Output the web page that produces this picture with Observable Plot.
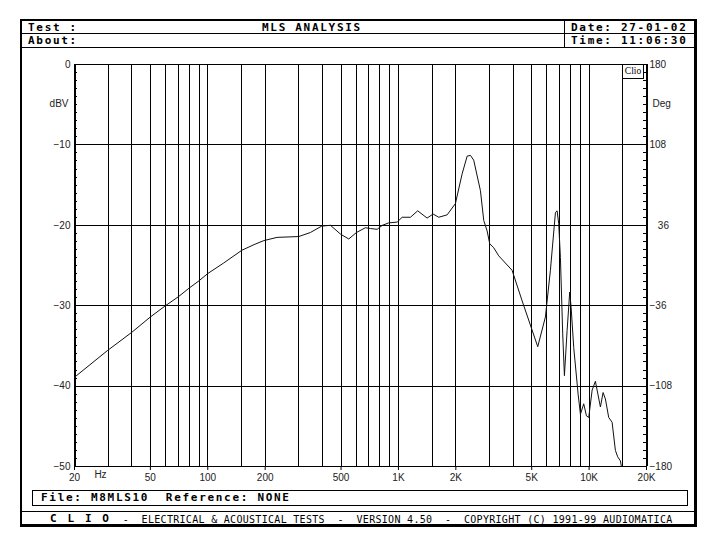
<!DOCTYPE html>
<html><head><meta charset="utf-8">
<script src="https://cdn.jsdelivr.net/npm/d3@7"></script>
<script src="https://cdn.jsdelivr.net/npm/@observablehq/plot@0.6"></script>
<style>
body{margin:0;background:#fff;}
#wrap{position:relative;width:719px;height:545px;overflow:hidden;background:#fff;}
#chart{position:absolute;left:0;top:0;}
.ov{position:absolute;}
.hb{font-family:"DejaVu Sans Mono",monospace;font-weight:bold;font-size:11px;letter-spacing:1.7px;color:#000;white-space:pre;line-height:12px;}
.fr{font-family:"DejaVu Sans Mono",monospace;font-weight:normal;font-size:10px;letter-spacing:0.3px;color:#000;white-space:pre;line-height:12px;}
.ln{position:absolute;background:#000;}
</style></head><body>
<div id="wrap">
<div id="chart"></div>
<div class="ov" style="left:20px;top:19px;width:672px;height:503px;border-style:solid;border-color:#000;border-width:2px 3px 3px 2px;"></div>
<div class="ln" style="left:22px;top:33px;width:672px;height:1px;"></div>
<div class="ln" style="left:22px;top:47px;width:672px;height:1px;"></div>
<div class="ln" style="left:564px;top:21px;width:1px;height:26px;"></div>
<div class="ov hb" style="left:28px;top:21.5px;">Test :</div>
<div class="ov hb" style="left:262px;top:21.5px;">MLS ANALYSIS</div>
<div class="ov hb" style="left:571px;top:21.5px;">Date: 27-01-02</div>
<div class="ov hb" style="left:28px;top:35px;">About:</div>
<div class="ov hb" style="left:571px;top:35px;">Time: 11:06:30</div>
<div class="ov" style="left:32px;top:490px;width:654px;height:14px;border:1px solid #000;"></div>
<div class="ov hb" style="left:41px;top:491.5px;">File: M8MLS10  Reference: NONE</div>
<div class="ln" style="left:22px;top:511px;width:672px;height:1px;"></div>
<div class="ov hb" style="left:50px;top:513px;letter-spacing:2.1px;">C L I O</div>
<div class="ov fr" style="left:110px;top:513.5px;">  -  ELECTRICAL &amp; ACOUSTICAL TESTS  -  VERSION 4.50  -  COPYRIGHT (C) 1991-99 AUDIOMATICA</div>
<div class="ov" style="left:622px;top:64px;width:20px;height:13px;border:1px solid #000;background:#fff;font-family:'Liberation Serif',serif;font-size:9.5px;line-height:13px;text-align:center;">Clio</div>
</div>
<script>
// Frequency response (Hz) and level (dBV)
const freqs = [20, 29.7, 40, 50, 60, 70, 80, 90, 100, 121, 151, 175, 197, 231, 300, 345, 396, 440, 497, 549, 602, 671, 713, 773, 824, 889, 985, 1046, 1156, 1262, 1414, 1520, 1627, 1801, 1990, 2158, 2293, 2386, 2482, 2692, 2802, 2918, 3012, 3162, 3358, 3946, 4454, 4920, 5378, 5900, 6266, 6660, 6795, 6928, 7072, 7271, 7422, 7667, 7914, 8048, 8306, 8758, 9006, 9372, 9682, 9956, 10372, 10790, 11464, 11842, 12176, 12672, 13202, 13738, 14126, 14592, 14894];
const levels = [-38.9, -35.6, -33.3, -31.4, -30.0, -28.9, -27.8, -26.9, -26.0, -24.7, -23.1, -22.4, -21.9, -21.5, -21.4, -20.9, -20.1, -20.0, -21.1, -21.7, -20.9, -20.3, -20.4, -20.5, -20.0, -19.7, -19.6, -19.0, -19.0, -18.2, -19.1, -18.6, -19.0, -18.7, -17.3, -13.6, -11.4, -11.3, -11.9, -15.7, -19.4, -20.7, -22.3, -22.8, -23.8, -25.6, -29.4, -32.4, -35.1, -31.4, -25.6, -18.4, -18.2, -19.8, -24.0, -33.5, -38.7, -33.1, -28.3, -30.2, -35.2, -41.0, -43.5, -42.2, -43.7, -43.9, -40.5, -39.4, -42.6, -40.8, -41.6, -43.9, -44.5, -48.0, -48.8, -49.3, -50.5];

const gridFreqs = [30, 40, 50, 60, 70, 80, 90, 100, 150, 200, 300, 400, 500, 600, 700, 800, 900, 1000, 1500, 2000, 3000, 4000, 5000, 6000, 7000, 8000, 9000, 10000, 15000];
const dbGrid = [-10, -20, -30, -40];
const dbTicks = [0, -10, -20, -30, -40, -50];
const dbLabels = ["0", "\u221210", "\u221220", "\u221230", "\u221240", "\u221250"];
const degLabels = ["180", "108", "\u2007 36", "\u221236", "\u2212108", "\u2212180"];
const xTickFreqs = [20, 50, 100, 200, 500, 1000, 2000, 5000, 10000, 20000];
const xTickLabels = ["20", "50", "100", "200", "500", "1K", "2K", "5K", "10K", "20K"];
const minorDb = d3.range(-50, 1);

const data = freqs.map((f, i) => ({f, db: levels[i]}));
const xTicks = xTickFreqs.map((f, i) => ({f, label: xTickLabels[i]}));

const W = 719, H = 545, mL = 74, mR = 73, mT = 64, mB = 79;
const pw = W - mL - mR;
const labelFont = "Liberation Sans";

const chart = Plot.plot({
  width: W, height: H,
  marginLeft: mL, marginRight: mR, marginTop: mT, marginBottom: mB,
  style: {fontFamily: labelFont, fontSize: "10px", background: "transparent", color: "#000"},
  x: {type: "log", domain: [20, 20000], axis: null},
  y: {domain: [-50, 0], axis: null},
  marks: [
    Plot.ruleX(gridFreqs, {stroke: "#000", strokeWidth: 1, shapeRendering: "crispEdges"}),
    Plot.ruleY(dbGrid, {stroke: "#000", strokeWidth: 1, shapeRendering: "crispEdges"}),
    Plot.frame({stroke: "#000", strokeWidth: 1, shapeRendering: "crispEdges"}),
    Plot.ruleX([20, 20000], {stroke: "#000", strokeWidth: 2, shapeRendering: "crispEdges"}),
    Plot.tickY(minorDb, {y: d => d, insetRight: pw - 3, stroke: "#000", shapeRendering: "crispEdges"}),
    Plot.tickY(minorDb, {y: d => d, insetLeft: pw - 3, stroke: "#000", shapeRendering: "crispEdges"}),
    Plot.line(data, {x: "f", y: "db", stroke: "#111", strokeWidth: 1, clip: true}),
    Plot.axisX({ticks: xTickFreqs, tickFormat: () => "", tickSize: 4, label: null}),
    Plot.text(xTicks, {x: "f", y: () => -50, text: "label", dy: 11, textAnchor: "middle", fill: "#222"}),
    Plot.text(dbTicks, {x: 20, y: d => d, text: (d, i) => dbLabels[i], textAnchor: "end", dx: -4, fill: "#222"}),
    Plot.text(dbTicks, {x: 20000, y: d => d, text: (d, i) => degLabels[i], textAnchor: "start", dx: 3, fill: "#222"}),
    Plot.text(["dBV"], {text: d => d, frameAnchor: "top-left", dx: -6, dy: 35, textAnchor: "end", fill: "#222"}),
    Plot.text(["Deg"], {text: d => d, frameAnchor: "top-right", dx: 6, dy: 35, textAnchor: "start", fill: "#222"}),
    Plot.text(["Hz"], {text: d => d, frameAnchor: "bottom-left", dx: 26, dy: 11, textAnchor: "middle", fill: "#222"})
  ]
});
document.getElementById("chart").appendChild(chart);
</script>
</body></html>
